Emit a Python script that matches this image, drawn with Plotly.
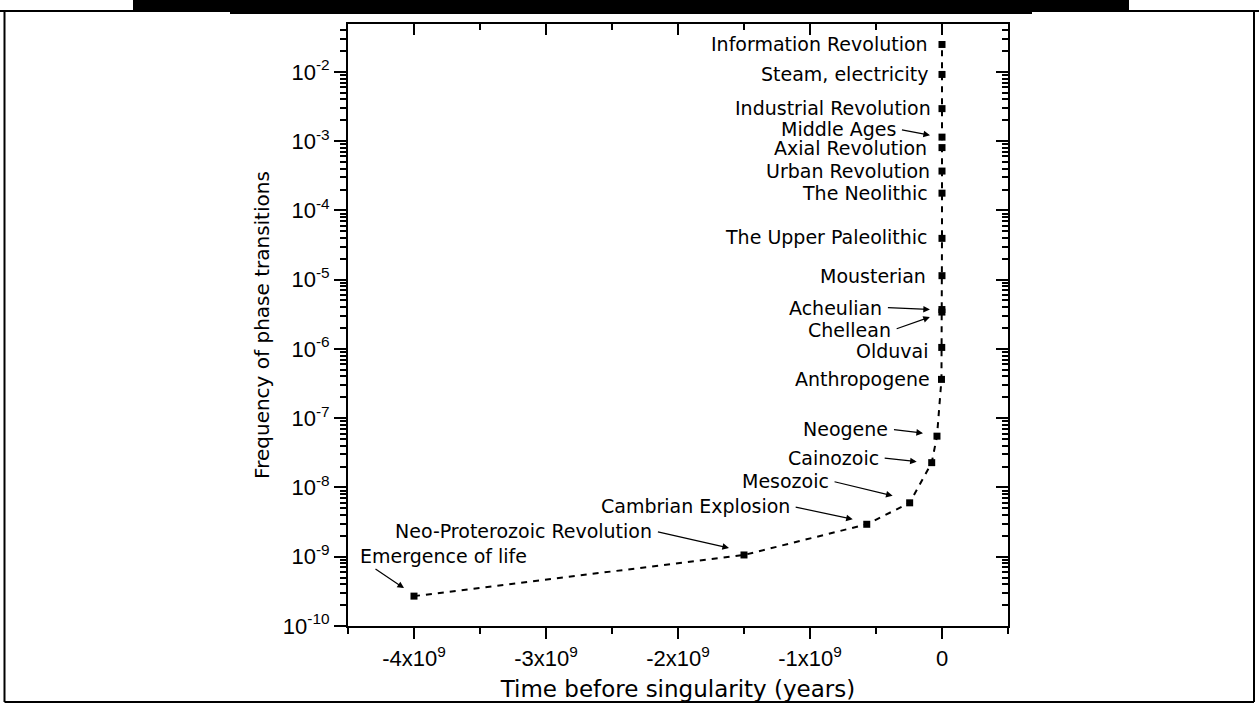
import math
import plotly.graph_objects as go

# Phase transitions in the history of life and society
events = [
    "Emergence of life", "Neo-Proterozoic Revolution", "Cambrian Explosion",
    "Mesozoic", "Cainozoic", "Neogene", "Anthropogene", "Olduvai",
    "Chellean", "Acheulian", "Mousterian", "The Upper Paleolithic",
    "The Neolithic", "Urban Revolution", "Axial Revolution", "Middle Ages",
    "Industrial Revolution", "Steam, electricity", "Information Revolution",
]
# time before singularity, years
times = [
    -4.0e9, -1.5e9, -5.7e8, -2.45e8, -7.8e7, -3.8e7, -4.0e6, -2.0e6,
    -8.0e5, -7.0e5, -1.5e5, -4.0e4, -1.0e4, -5.0e3, -2.5e3, -1.5e3,
    -2.5e2, -1.2e2, -4.0e1,
]
# frequency of phase transitions, 1/years
freqs = [
    2.7e-10, 1.06e-9, 2.94e-9, 6.0e-9, 2.28e-8, 5.5e-8, 3.63e-7, 1.05e-6,
    3.4e-6, 3.7e-6, 1.14e-5, 3.94e-5, 1.77e-4, 3.69e-4, 8.05e-4, 1.14e-3,
    2.94e-3, 9.16e-3, 2.48e-2,
]

x_tick_vals = [-4e9, -3e9, -2e9, -1e9, 0]
x_tick_text = ["-4x10<sup>9</sup>", "-3x10<sup>9</sup>", "-2x10<sup>9</sup>",
               "-1x10<sup>9</sup>", "0"]
y_tick_exps = [-10, -9, -8, -7, -6, -5, -4, -3, -2]
y_tick_text = ["10<sup>%d</sup>" % e for e in y_tick_exps]

# Label placement relative to each marker, in screen pixels (y grows down):
#   text: (x of the text's right edge, y of its middle)
#   head: where an arrow tip sits, or None for a plain label
label_layout = {
    "Information Revolution": dict(text=(-12, 0)),
    "Steam, electricity": dict(text=(-11, 0)),
    "Industrial Revolution": dict(text=(-9, -1)),
    "Middle Ages": dict(text=(-44, -8), head=(-12, -2)),
    "Axial Revolution": dict(text=(-13, 0)),
    "Urban Revolution": dict(text=(-10, 0)),
    "The Neolithic": dict(text=(-12, 0)),
    "The Upper Paleolithic": dict(text=(-12, -1)),
    "Mousterian": dict(text=(-14, 0)),
    "Acheulian": dict(text=(-58, -2), head=(-12, 0)),
    "Chellean": dict(text=(-49, 18), head=(-12, 5)),
    "Olduvai": dict(text=(-11, 4)),
    "Anthropogene": dict(text=(-9, 0)),
    "Neogene": dict(text=(-47, -7), head=(-14, -3)),
    "Cainozoic": dict(text=(-51, -5), head=(-15, -1)),
    "Mesozoic": dict(text=(-79, -22), head=(-17, -7)),
    "Cambrian Explosion": dict(text=(-75, -18), head=(-14, -5)),
    "Neo-Proterozoic Revolution": dict(text=(-90, -24), head=(-15, -7)),
}
# the first label sits above its point, with the arrow leaving from below it
first_label = dict(text_left=(-56, -40), head=(-10, -8), tail=(-40, -28))

X_RANGE = [-4.5e9, 0.5e9]
Y_RANGE = [-10, -1.31]

W, H = 1259, 704
L, R, T, B = 348, 1008, 24, 626

label_font = dict(family="DejaVu Sans", size=19, color="black")
arrow_style = dict(arrowhead=2, arrowsize=1.1, arrowwidth=1.2,
                   arrowcolor="black", axref="pixel", ayref="pixel")

fig = go.Figure()
fig.add_trace(go.Scatter(
    x=times, y=freqs, mode="lines+markers",
    line=dict(color="black", width=2, dash="6px,6px"),
    marker=dict(symbol="square", size=7, color="black"),
    showlegend=False, hoverinfo="skip",
))
# carrier for the mirrored top/right axes
fig.add_trace(go.Scatter(x=[None], y=[None], xaxis="x2", yaxis="y2",
                         showlegend=False, hoverinfo="skip"))

annotations = []
for name, t, f in zip(events, times, freqs):
    ly = math.log10(f)
    if name == "Emergence of life":
        tx, ty = first_label["text_left"]
        annotations.append(dict(
            x=t, y=ly, text=name, showarrow=False, xanchor="left",
            yanchor="middle", xshift=tx, yshift=-ty, font=label_font))
        hx, hy = first_label["head"]
        sx, sy = first_label["tail"]
        annotations.append(dict(
            x=t, y=ly, text="", showarrow=True, xshift=hx, yshift=-hy,
            ax=sx - hx, ay=sy - hy, **arrow_style))
        continue
    spec = label_layout[name]
    tx, ty = spec["text"]
    if "head" not in spec:
        annotations.append(dict(
            x=t, y=ly, text=name, showarrow=False, xanchor="right",
            yanchor="middle", xshift=tx, yshift=-ty, font=label_font))
    else:
        hx, hy = spec["head"]
        annotations.append(dict(
            x=t, y=ly, text=name, showarrow=True, xanchor="right",
            yanchor="middle", xshift=hx, yshift=-hy,
            ax=tx - hx, ay=ty - hy, startstandoff=4, font=label_font,
            **arrow_style))

x_minor = [-4.5e9 + 0.5e9 * i for i in range(11)]
x_minor = [v for v in x_minor if v not in x_tick_vals]
y_minor = [m * 10.0 ** k for k in range(-10, -1) for m in range(2, 10)]

axis_font = dict(family="Liberation Sans, Arial", size=22, color="black")
common_x = dict(range=X_RANGE, showgrid=False, zeroline=False, showline=True,
                linecolor="black", linewidth=2, tickcolor="black", tickwidth=2,
                ticklen=11, tickmode="array", tickvals=x_tick_vals)
common_y = dict(type="log", range=Y_RANGE, showgrid=False, zeroline=False,
                showline=True, linecolor="black", linewidth=2,
                tickcolor="black", tickwidth=2, ticklen=12, tickmode="array",
                tickvals=[10.0 ** e for e in y_tick_exps])


def minor(direction, width):
    return dict(ticks=direction, ticklen=6, tickwidth=width,
                tickcolor="black", showgrid=False)


fig.update_layout(
    width=W, height=H,
    margin=dict(l=L, r=W - R, t=T, b=H - B, autoexpand=False),
    paper_bgcolor="white", plot_bgcolor="white",
    xaxis=dict(**common_x, ticks="outside", ticktext=x_tick_text,
               tickfont=axis_font, ticklabelstandoff=1,
               minor=dict(tickmode="array", tickvals=x_minor,
                          **minor("outside", 2)),
               title=dict(text="Time before singularity (years)",
                          font=dict(family="DejaVu Sans", size=23,
                                    color="black"),
                          standoff=10)),
    yaxis=dict(**common_y, ticks="outside", ticktext=y_tick_text,
               tickfont=axis_font,
               minor=dict(tickmode="array", tickvals=y_minor,
                          **minor("outside", 1.5)),
               title=dict(text="Frequency of phase transitions",
                          font=dict(family="DejaVu Sans", size=20,
                                    color="black"),
                          standoff=8)),
    xaxis2=dict(**common_x, overlaying="x", side="top", anchor="y",
                ticks="inside", showticklabels=False,
                minor=dict(tickmode="array", tickvals=x_minor,
                           **minor("inside", 2))),
    yaxis2=dict(**common_y, overlaying="y", side="right", anchor="x",
                ticks="inside", showticklabels=False,
                minor=dict(tickmode="array", tickvals=y_minor,
                           **minor("inside", 1.5))),
    annotations=annotations,
)


# page frame around the figure, given in page pixels
def px(v):
    return (v - L) / (R - L)


def py(v):
    return (B - v) / (B - T)


frame = [
    dict(type="rect", x0=px(133), x1=px(1129), y0=py(0), y1=py(11),
         fillcolor="black", line=dict(width=0)),
    dict(type="rect", x0=px(230), x1=px(1032), y0=py(0), y1=py(14),
         fillcolor="black", line=dict(width=0)),
    dict(type="line", x0=px(0), x1=px(1259), y0=py(11), y1=py(11),
         line=dict(color="black", width=2)),
    dict(type="line", x0=px(4.5), x1=px(4.5), y0=py(11), y1=py(702),
         line=dict(color="black", width=2)),
    dict(type="line", x0=px(1254), x1=px(1254), y0=py(11), y1=py(702),
         line=dict(color="black", width=2)),
    dict(type="line", x0=px(4.5), x1=px(1254), y0=py(702), y1=py(702),
         line=dict(color="black", width=2)),
]
for s in frame:
    s.update(xref="paper", yref="paper", layer="above")
fig.update_layout(shapes=frame)

fig.write_html("out.html")
